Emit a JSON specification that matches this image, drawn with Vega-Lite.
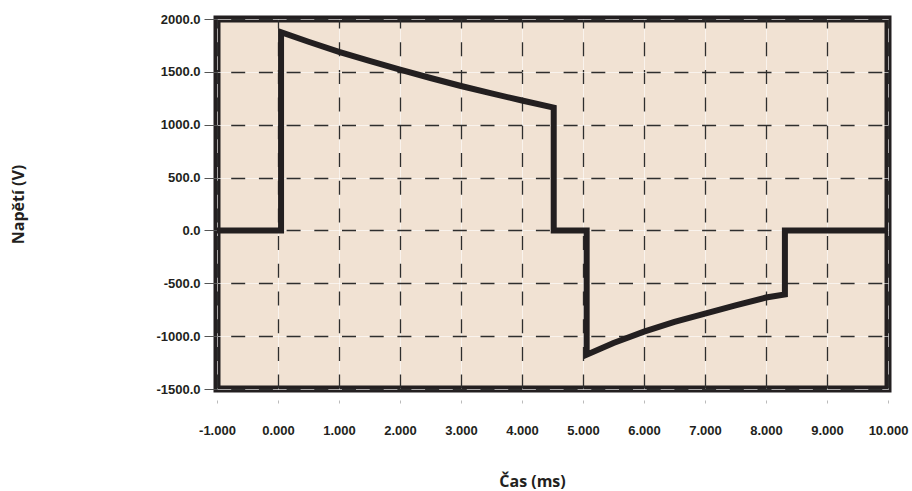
{
  "$schema": "https://vega.github.io/schema/vega-lite/v6.json",
  "width": 671,
  "height": 370,
  "autosize": "none",
  "padding": {"left": 217, "top": 19, "right": 24, "bottom": 102},
  "background": "white",
  "view": {"fill": "#F1E2D3", "stroke": "#231F20", "strokeWidth": 7},
  "data": {"values": [
    {"i": 0, "t": -1, "v": 0},
    {"i": 1, "t": 0.05, "v": 0},
    {"i": 2, "t": 0.05, "v": 1875},
    {"i": 3, "t": 0.5, "v": 1785},
    {"i": 4, "t": 1.0, "v": 1690},
    {"i": 5, "t": 1.5, "v": 1604},
    {"i": 6, "t": 2.0, "v": 1521},
    {"i": 7, "t": 2.5, "v": 1442},
    {"i": 8, "t": 3.0, "v": 1366},
    {"i": 9, "t": 3.5, "v": 1296},
    {"i": 10, "t": 4.0, "v": 1229},
    {"i": 11, "t": 4.52, "v": 1162},
    {"i": 12, "t": 4.52, "v": 0},
    {"i": 13, "t": 5.06, "v": 0},
    {"i": 14, "t": 5.06, "v": -1175},
    {"i": 15, "t": 5.5, "v": -1065},
    {"i": 16, "t": 6.0, "v": -957},
    {"i": 17, "t": 6.5, "v": -866},
    {"i": 18, "t": 7.0, "v": -786},
    {"i": 19, "t": 7.5, "v": -708},
    {"i": 20, "t": 8.0, "v": -635},
    {"i": 21, "t": 8.31, "v": -605},
    {"i": 22, "t": 8.31, "v": 0},
    {"i": 23, "t": 10, "v": 0}
  ]},
  "layer": [
    {
      "mark": {"type": "line", "opacity": 0},
      "encoding": {
        "x": {"field": "t", "type": "quantitative",
          "scale": {"domain": [-1, 10], "nice": false, "zero": false},
          "axis": {"orient": "bottom", "grid": true, "gridColor": "#ffffff", "gridWidth": 1, "gridOpacity": 0.6,
            "labels": false, "ticks": false, "domain": false, "title": null,
            "values": [-1, 0, 1, 2, 3, 4, 5, 6, 7, 8, 9, 10]}},
        "y": {"field": "v", "type": "quantitative",
          "scale": {"domain": [-1500, 2000], "nice": false, "zero": false},
          "axis": {"orient": "left", "grid": true, "gridColor": "#ffffff", "gridWidth": 1, "gridOpacity": 0.6,
            "labels": false, "ticks": false, "domain": false, "title": null,
            "values": [-1500, -1000, -500, 0, 500, 1000, 1500, 2000]}},
        "order": {"field": "i", "type": "quantitative"}
      }
    },
    {
      "mark": {"type": "line", "color": "#231F20", "strokeWidth": 6, "strokeJoin": "miter", "strokeCap": "butt"},
      "encoding": {
        "x": {"field": "t", "type": "quantitative",
          "scale": {"domain": [-1, 10], "nice": false, "zero": false},
          "axis": {"orient": "bottom", "grid": true, "gridColor": "#2E2E2E", "gridWidth": 1.3, "gridOpacity": 1,
            "gridDash": [14, 13.7], "gridDashOffset": 5,
            "values": [-1, 0, 1, 2, 3, 4, 5, 6, 7, 8, 9, 10],
            "format": ".3f", "labelExpr": "replace(datum.label, '\u2212', '-')", "domain": false, "offset": 11,
            "ticks": true, "tickSize": 3, "tickColor": "#BBBBBB", "tickWidth": 1,
            "labelFont": "Liberation Sans", "labelFontWeight": "bold", "labelFontSize": 13, "labelColor": "#231F20",
            "labelBaseline": "middle", "labelPadding": 27, "labelFlush": false, "labelOverlap": false,
            "title": "Čas (ms)", "titleFont": "Open Sans", "titleFontWeight": "bold", "titleFontSize": 16,
            "titleColor": "#231F20", "titleX": 315, "titleY": 81, "titleBaseline": "middle", "titleAlign": "center"}},
        "y": {"field": "v", "type": "quantitative",
          "scale": {"domain": [-1500, 2000], "nice": false, "zero": false},
          "axis": {"orient": "left", "grid": true, "gridColor": "#2E2E2E", "gridWidth": 1.3, "gridOpacity": 1,
            "gridDash": [14, 13.7], "gridDashOffset": 14,
            "values": [-1500, -1000, -500, 0, 500, 1000, 1500, 2000],
            "format": ".1f", "labelExpr": "replace(datum.label, '\u2212', '-')", "domain": false,
            "ticks": true, "tickSize": 13, "tickColor": "#555555", "tickWidth": 1,
            "labelFont": "Liberation Sans", "labelFontWeight": "bold", "labelFontSize": 13, "labelColor": "#231F20",
            "labelPadding": 4, "labelFlush": false, "labelOverlap": false,
            "title": "Napětí (V)", "titleFont": "Open Sans", "titleFontWeight": "bold", "titleFontSize": 16,
            "titleColor": "#231F20", "titleAngle": -90, "titleX": -199, "titleY": 185,
            "titleBaseline": "middle", "titleAlign": "center"}},
        "order": {"field": "i", "type": "quantitative"}
      }
    }
  ],
  "resolve": {"axis": {"x": "independent", "y": "independent"}}
}
